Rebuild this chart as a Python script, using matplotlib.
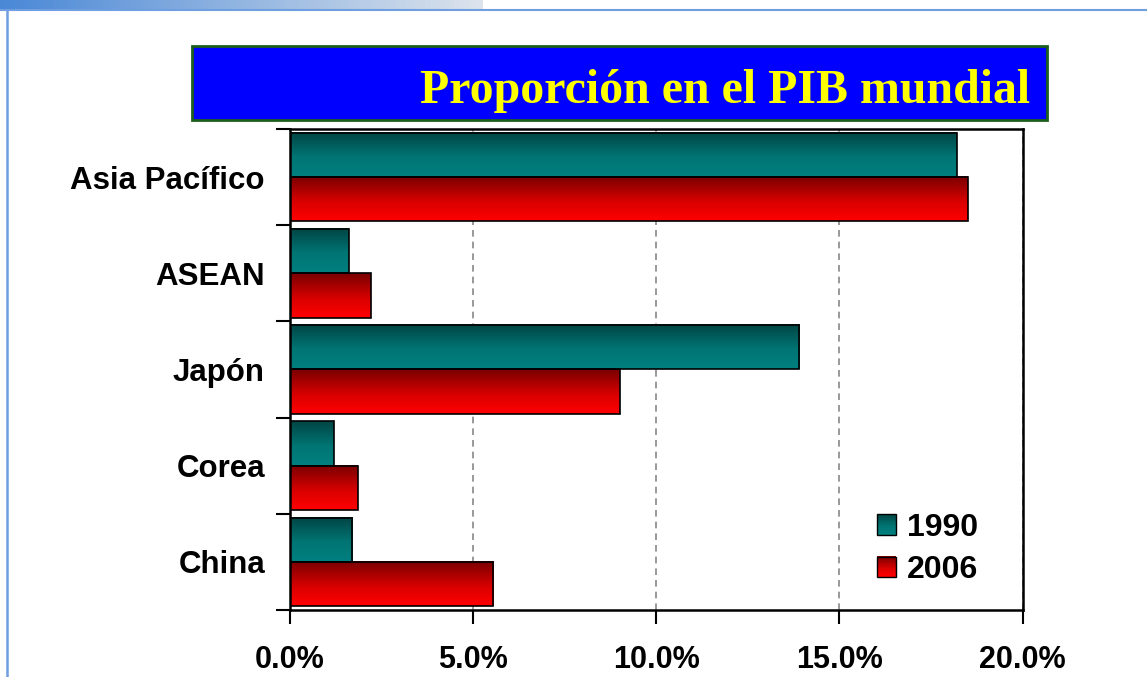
import matplotlib.pyplot as plt
import matplotlib as mp
import numpy as np
from matplotlib.patches import Rectangle
from matplotlib.lines import Line2D
from matplotlib.legend_handler import HandlerBase

# data (share of world GDP, %)
regions = ['Asia Pacífico', 'ASEAN', 'Japón', 'Corea', 'China']
gdp_1990 = [18.2, 1.6, 13.9, 1.2, 1.7]
gdp_2006 = [18.5, 2.2, 9.0, 1.85, 5.55]
years = ['1990', '2006']
xticks = [0, 5, 10, 15, 20]

teal_map = mp.colors.LinearSegmentedColormap.from_list(
    "teal", [(0, '#004545'), (0.55, '#007573'), (1, '#008080')])
red_map = mp.colors.LinearSegmentedColormap.from_list(
    "red", [(0, '#7a0000'), (0.6, '#dd0000'), (1, '#ff0000')])
grad = np.linspace(0, 1, 64).reshape(-1, 1)


class GradHandler(HandlerBase):
    def __init__(self, cmap):
        super().__init__()
        self.cmap = cmap

    def create_artists(self, legend, orig, xd, yd, w, h, fs, trans):
        arts = []
        n = 12
        for i in range(n):
            c = self.cmap(1 - (i + 0.5) / n)
            arts.append(Rectangle((-xd, -yd + h * i / n), w, h / n + 0.3,
                                  facecolor=c, edgecolor='none', transform=trans))
        arts.append(Rectangle((-xd, -yd), w, h, facecolor='none',
                              edgecolor='black', lw=1.0, transform=trans))
        return arts


fig = plt.figure(figsize=(11.47, 6.77), dpi=100)

# slide decoration
bar_ax = fig.add_axes([0, 1 - 9 / 677, 483 / 1147, 9 / 677])
bar_ax.imshow(np.linspace(0, 1, 100).reshape(1, -1), aspect='auto',
              cmap=mp.colors.LinearSegmentedColormap.from_list("hdr", ['#4a88d6', '#dce3ec']))
bar_ax.axis('off')
fig.add_artist(Line2D([0, 1], [1 - 10 / 677, 1 - 10 / 677], color='#6f9fe0', lw=1.5))
fig.add_artist(Line2D([7 / 1147, 7 / 1147], [0, 1 - 10 / 677], color='#6f9fe0', lw=1.8))

# title box
fig.add_artist(Rectangle((192 / 1147, 1 - 120 / 677), 855 / 1147, 74 / 677,
                         facecolor='#0000ff', edgecolor='#1c5e1c', lw=2,
                         transform=fig.transFigure))
fig.text(1030 / 1147, 1 - 103 / 677, 'Proporción en el PIB mundial', ha='right', va='baseline',
         color='#ffff00', fontsize=34.5, fontweight='bold', family='Liberation Serif')

ax = fig.add_axes([290 / 1147, 1 - 610 / 677, 732.5 / 1147, 481 / 677])

y = np.arange(len(regions))
h = 0.46
b1 = ax.barh(y - h / 2, gdp_1990, height=h, facecolor='none', edgecolor='black', lw=1.2, zorder=3)
b2 = ax.barh(y + h / 2, gdp_2006, height=h, facecolor='none', edgecolor='black', lw=1.2, zorder=3)

for bars, cmap in [(b1, teal_map), (b2, red_map)]:
    for r in bars:
        x0, y0 = r.get_x(), r.get_y()
        ax.imshow(grad, cmap=cmap, aspect='auto', zorder=2,
                  extent=(x0, x0 + r.get_width(), y0 + r.get_height(), y0))
ax.set_xlim(0, 20)
ax.set_ylim(len(regions) - 0.5, -0.5)

ax.set_xticks(xticks)
ax.set_xticklabels(['{:.1f}%'.format(v) for v in xticks])
ax.set_yticks(y)
ax.set_yticklabels(regions)
ax.set_yticks(np.arange(len(regions) + 1) - 0.5, minor=True)
ax.tick_params(axis='y', which='major', length=0, pad=18)
ax.tick_params(axis='y', which='minor', length=10, width=1.5, direction='out')
ax.tick_params(axis='x', length=10, width=1.5, direction='out', pad=15.5)
for lab in ax.get_yticklabels():
    lab.set_fontfamily('Liberation Sans')
    lab.set_fontweight('bold')
    lab.set_fontsize(22.5)
for lab in ax.get_xticklabels():
    lab.set_fontfamily('Liberation Sans')
    lab.set_fontweight('bold')
    lab.set_fontsize(22)

ax.grid(axis='x', linestyle=(0, (4, 3)), color='#888888', lw=1.2, zorder=1)
for s in ax.spines.values():
    s.set_linewidth(1.8)

leg = ax.legend([b1, b2], years, handler_map={b1: GradHandler(teal_map), b2: GradHandler(red_map)},
                loc='center left', bbox_to_anchor=(0.762, 0.127), frameon=False,
                handlelength=0.6, handleheight=0.6, labelspacing=0.38, handletextpad=0.35,
                prop={'family': 'Liberation Sans', 'weight': 'bold', 'size': 23})

fig.savefig('out.png', dpi=100)
